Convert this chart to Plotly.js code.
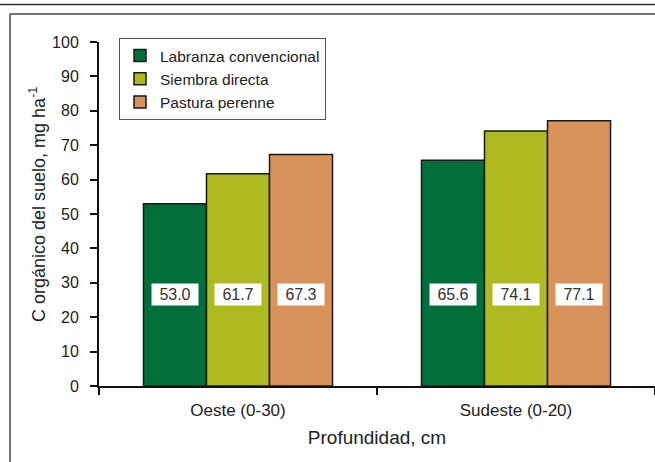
<!DOCTYPE html>
<html>
<head>
<meta charset="utf-8">
<script src="https://cdn.plot.ly/plotly-3.0.1.min.js"></script>
<style>
  html, body { margin: 0; padding: 0; background: #fff; }
  #chart { width: 655px; height: 462px; }
</style>
</head>
<body>
<div id="chart"></div>
<script>
// ---- data ----
const categories = ["Oeste (0-30)", "Sudeste (0-20)"];
const seriesNames = ["Labranza convencional", "Siembra directa", "Pastura perenne"];
const labranza = [53.0, 65.6];
const siembra = [61.7, 74.1];
const pastura = [67.3, 77.1];
const yTicks = [0, 10, 20, 30, 40, 50, 60, 70, 80, 90, 100];
const labelLevel = 26.5;
const yTitle = "C orgánico del suelo, mg ha<sup>-1</sup>";
const xTitle = "Profundidad, cm";

// ---- styling ----
const colors = ["#016f3a", "#aeba1f", "#d8925a"];
const W = 655, H = 462;
const M = { l: 99, r: 0, t: 42, b: 76 };
const bargap = 0.32;
const FONT = "Liberation Sans, Arial, Helvetica, sans-serif";

const plotW = W - M.l - M.r, plotH = H - M.t - M.b;
const px = x => (x - M.l) / plotW;
const py = y => (H - M.b - y) / plotH;

const seriesValues = [labranza, siembra, pastura];
const traces = seriesValues.map((vals, i) => ({
  type: "bar",
  name: seriesNames[i],
  x: categories,
  y: vals,
  marker: { color: colors[i], line: { color: "#1a1a1a", width: 1.5 } },
  hoverinfo: "skip"
}));

const barW = (1 - bargap) / seriesValues.length;
const annotations = [];
seriesValues.forEach((vals, i) => {
  vals.forEach((v, j) => {
    annotations.push({
      x: j + (i - (seriesValues.length - 1) / 2) * barW,
      y: labelLevel,
      xref: "x", yref: "y",
      text: v.toFixed(1),
      showarrow: false,
      bgcolor: "#ffffff",
      width: 44, height: 19,
      borderpad: 1,
      font: { family: FONT, size: 16, color: "#333" }
    });
  });
});
// y-axis title placed as a rotated annotation
annotations.push({
  xref: "paper", yref: "paper",
  x: px(38), y: py(205),
  xanchor: "center", yanchor: "middle",
  textangle: -90,
  text: yTitle,
  showarrow: false,
  font: { family: FONT, size: 18, color: "#222" }
});

const shapes = [
  { type: "line", xref: "paper", yref: "paper", x0: px(-5), x1: px(W + 5), y0: py(4.5), y1: py(4.5),
    line: { color: "#333", width: 1.5 } },
  { type: "line", xref: "paper", yref: "paper", x0: px(10), x1: px(W + 5), y0: py(14), y1: py(14),
    line: { color: "#444", width: 1.5 } },
  { type: "line", xref: "paper", yref: "paper", x0: px(10), x1: px(10), y0: py(14), y1: py(H + 5),
    line: { color: "#444", width: 1.5 } }
];

const layout = {
  width: W, height: H,
  margin: M,
  paper_bgcolor: "#fff", plot_bgcolor: "#fff",
  font: { family: FONT, color: "#222" },
  barmode: "group",
  bargap: bargap,
  bargroupgap: 0,
  showlegend: true,
  legend: {
    x: px(119), y: py(38), xanchor: "left", yanchor: "top",
    bgcolor: "#fff", bordercolor: "#555", borderwidth: 1,
    font: { family: FONT, size: 15.5, color: "#222" },
    traceorder: "normal", itemwidth: 30
  },
  xaxis: {
    type: "category",
    showline: true, linecolor: "#111", linewidth: 2,
    ticks: "outside", tickson: "boundaries", ticklen: 7, tickwidth: 2, tickcolor: "#111",
    ticklabelstandoff: 8,
    tickfont: { family: FONT, size: 17, color: "#222" },
    showgrid: false, zeroline: false,
    title: { text: xTitle, font: { family: FONT, size: 19, color: "#222" }, standoff: 11 },
    fixedrange: true
  },
  yaxis: {
    range: [0, 100],
    tickvals: yTicks,
    showline: true, linecolor: "#111", linewidth: 2,
    ticks: "outside", ticklen: 7, tickwidth: 2, tickcolor: "#111",
    ticklabelstandoff: 8,
    tickfont: { family: FONT, size: 16, color: "#222" },
    showgrid: false, zeroline: false,
    fixedrange: true
  },
  annotations: annotations,
  shapes: shapes
};

Plotly.newPlot("chart", traces, layout, { displayModeBar: false, staticPlot: true });
</script>
</body>
</html>
